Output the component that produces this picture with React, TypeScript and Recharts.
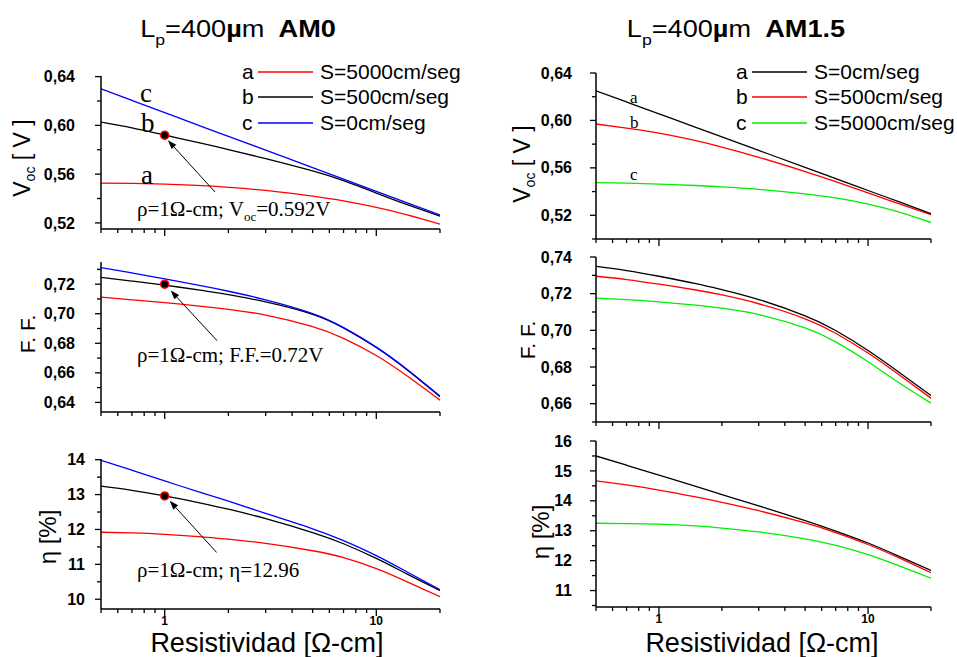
import React from 'react';
import { LineChart, Line, XAxis, YAxis, ReferenceDot, ReferenceLine } from 'recharts';

// ---------- data ----------
const rho = [0.5, 0.7, 1, 1.5, 2, 3, 5, 7, 10, 14, 20];

// AM0 (left column)
const vocAM0_S5000 = [0.5527, 0.5524, 0.5518, 0.5506, 0.5492, 0.5466, 0.5419, 0.5380, 0.5327, 0.5266, 0.5190];
const vocAM0_S500 = [0.6027, 0.5980, 0.5921, 0.5852, 0.5802, 0.5727, 0.5626, 0.5546, 0.5445, 0.5350, 0.5255];
const vocAM0_S0 = [0.6300, 0.6205, 0.6105, 0.5990, 0.5910, 0.5797, 0.5653, 0.5559, 0.5459, 0.5365, 0.5265];

const ffAM0_S5000 = [0.7112, 0.7094, 0.7075, 0.7050, 0.7030, 0.6991, 0.6913, 0.6833, 0.6717, 0.6578, 0.6415];
const ffAM0_S500 = [0.7246, 0.7221, 0.7193, 0.7158, 0.7129, 0.7080, 0.6996, 0.6904, 0.6771, 0.6619, 0.6439];
const ffAM0_S0 = [0.7312, 0.7276, 0.7236, 0.7188, 0.7152, 0.7094, 0.7001, 0.6906, 0.6774, 0.6622, 0.6442];

const etaAM0_S5000 = [11.92, 11.90, 11.86, 11.79, 11.72, 11.60, 11.39, 11.19, 10.88, 10.50, 10.07];
const etaAM0_S500 = [13.24, 13.12, 12.96, 12.75, 12.58, 12.31, 11.91, 11.59, 11.17, 10.72, 10.25];
const etaAM0_S0 = [13.98, 13.70, 13.39, 13.05, 12.81, 12.46, 12.02, 11.68, 11.25, 10.78, 10.27];

// AM1.5 (right column)
const vocAM15_S0 = [0.6250, 0.6156, 0.6056, 0.5942, 0.5861, 0.5747, 0.5604, 0.5509, 0.5409, 0.5315, 0.5214];
const vocAM15_S500 = [0.5970, 0.5935, 0.5892, 0.5829, 0.5775, 0.5689, 0.5569, 0.5484, 0.5389, 0.5298, 0.5205];
const vocAM15_S5000 = [0.5475, 0.5471, 0.5463, 0.5451, 0.5440, 0.5419, 0.5381, 0.5346, 0.5295, 0.5229, 0.5139];

const ffAM15_S0 = [0.7349, 0.7326, 0.7295, 0.7255, 0.7222, 0.7168, 0.7079, 0.6999, 0.6890, 0.6773, 0.6644];
const ffAM15_S500 = [0.7295, 0.7277, 0.7252, 0.7220, 0.7193, 0.7145, 0.7063, 0.6984, 0.6876, 0.6759, 0.6630];
const ffAM15_S5000 = [0.7176, 0.7167, 0.7155, 0.7137, 0.7121, 0.7086, 0.7013, 0.6937, 0.6829, 0.6715, 0.6603];

const etaAM15_S0 = [15.50, 15.19, 14.86, 14.48, 14.21, 13.83, 13.34, 12.99, 12.59, 12.15, 11.67];
const etaAM15_S500 = [14.67, 14.53, 14.36, 14.13, 13.95, 13.67, 13.26, 12.94, 12.54, 12.10, 11.60];
const etaAM15_S5000 = [13.25, 13.24, 13.22, 13.16, 13.09, 12.96, 12.73, 12.51, 12.20, 11.83, 11.41];

// ticks
const xTicks = [0.5, 0.6, 0.7, 0.8, 0.9, 1, 2, 3, 4, 5, 6, 7, 8, 9, 10, 20];
const xMajor = [1, 10];
const vocAM0Ticks = [0.52, 0.54, 0.56, 0.58, 0.6, 0.62, 0.64];
const vocAM0Major = [0.52, 0.56, 0.6, 0.64];
const vocAM15Ticks = [0.5, 0.52, 0.54, 0.56, 0.58, 0.6, 0.62, 0.64];
const vocAM15Major = [0.52, 0.56, 0.6, 0.64];
const ffAM0Ticks = [0.64, 0.65, 0.66, 0.67, 0.68, 0.69, 0.7, 0.71, 0.72, 0.73];
const ffAM0Major = [0.64, 0.66, 0.68, 0.7, 0.72];
const ffAM15Ticks = [0.65, 0.66, 0.67, 0.68, 0.69, 0.7, 0.71, 0.72, 0.73, 0.74];
const ffAM15Major = [0.66, 0.68, 0.7, 0.72, 0.74];
const etaAM0Ticks = [10, 10.5, 11, 11.5, 12, 12.5, 13, 13.5, 14];
const etaAM0Major = [10, 11, 12, 13, 14];
const etaAM15Ticks = [10.5, 11, 11.5, 12, 12.5, 13, 13.5, 14, 14.5, 15, 15.5, 16];
const etaAM15Major = [11, 12, 13, 14, 15, 16];

// highlighted points (rho = 1 ohm-cm) and arrow segments [tail, head]
const markVoc = { x: 1, y: 0.592 };
const markFF = { x: 1, y: 0.72 };
const markEta = { x: 1, y: 12.96 };
const arrowVoc = [{ x: 1.73, y: 0.5453 }, { x: 1.035, y: 0.5878 }];
const arrowFF = [{ x: 1.77, y: 0.6817 }, { x: 1.067, y: 0.7157 }];
const arrowEta = [{ x: 1.76, y: 11.34 }, { x: 1.056, y: 12.82 }];

const SANS = 'Liberation Sans, Arial, Helvetica, sans-serif';
const SERIF = 'Liberation Serif, Times New Roman, serif';

const RED = '#ff0000';
const BLACK = '#000000';
const BLUE = '#0000ff';
const GREEN = '#00ee00';

type Series = { key: string; color: string; values: number[] };

const buildData = (series: Series[]) =>
  rho.map((x, i) => {
    const row: any = { x };
    series.forEach((s) => (row[s.key] = s.values[i]));
    return row;
  });

const makeXTick = (showLabels: boolean) => (p: any) => {
  const { x, y, payload } = p;
  const v = payload.value;
  const major = xMajor.includes(v);
  return (
    <g>
      <line x1={x} x2={x} y1={y} y2={y + (major ? 7 : 4)} stroke="#000" strokeWidth={1.3} />
      {showLabels && major && (
        <text x={x} y={y + 15.5} textAnchor="middle" fontWeight="bold" fontSize={12} fontFamily={SANS} fill="#000">
          {v}
        </text>
      )}
    </g>
  );
};

const makeYTick = (majors: number[], decimals: number, offset: number) => (p: any) => {
  const { x, y, payload } = p;
  const v = payload.value;
  const major = majors.some((m) => Math.abs(m - v) < 1e-6);
  return (
    <g>
      <line x1={x - (major ? 6 : 4)} x2={x} y1={y} y2={y} stroke="#000" strokeWidth={1.3} />
      {major && (
        <text x={x - offset} y={y} dy="0.35em" textAnchor="end" fontWeight="bold" fontSize={16} fontFamily={SANS} fill="#000">
          {v.toFixed(decimals).replace('.', ',')}
        </text>
      )}
    </g>
  );
};

const Arrow = (p: any) => {
  const { x1, y1, x2, y2 } = p;
  const ang = Math.atan2(y2 - y1, x2 - x1);
  const L = 9;
  const W = 3.2;
  const c = Math.cos(ang);
  const s = Math.sin(ang);
  const bx = x2 - L * c;
  const by = y2 - L * s;
  return (
    <g>
      <line x1={x1} y1={y1} x2={bx} y2={by} stroke="#000" strokeWidth={1} />
      <polygon points={`${x2},${y2} ${bx - W * s},${by + W * c} ${bx + W * s},${by - W * c}`} fill="#000" />
    </g>
  );
};

type PanelProps = {
  originX: number;
  x0: number;
  y0: number;
  x1: number;
  y1: number;
  xAxisH: number;
  domain: [number, number];
  yTicks: number[];
  yMajor: number[];
  decimals: number;
  labelOffset: number;
  series: Series[];
  showXLabels: boolean;
  mark?: { x: number; y: number };
  arrow?: { x: number; y: number }[];
};

function Panel(props: PanelProps) {
  const { originX, x0, y0, x1, y1, xAxisH, domain, yTicks, yMajor, decimals, labelOffset, series, showXLabels, mark, arrow } = props;
  const top = y0 - 20;
  const width = x1 + 20 - originX;
  const height = y1 - y0 + 20 + xAxisH;
  const data = buildData(series);
  return (
    <div style={{ position: 'absolute', left: originX, top }}>
      <LineChart width={width} height={height} data={data} margin={{ top: 20, right: 20, left: 0, bottom: 0 }}>
        <XAxis
          type="number"
          dataKey="x"
          scale="log"
          domain={[0.5, 20]}
          allowDataOverflow
          ticks={xTicks}
          interval={0}
          tickSize={0}
          tickMargin={0}
          tickLine={false}
          axisLine={{ stroke: '#000', strokeWidth: 1.5 }}
          height={xAxisH}
          tick={makeXTick(showXLabels)}
        />
        <YAxis
          type="number"
          domain={domain}
          allowDataOverflow
          ticks={yTicks}
          interval={0}
          width={x0 - originX}
          tickSize={0}
          tickMargin={0}
          tickLine={false}
          axisLine={{ stroke: '#000', strokeWidth: 1.5 }}
          tick={makeYTick(yMajor, decimals, labelOffset)}
        />
        {series.map((s) => (
          <Line
            key={s.key}
            dataKey={s.key}
            stroke={s.color}
            strokeWidth={1.3}
            dot={false}
            type="natural"
            isAnimationActive={false}
          />
        ))}
        {arrow && <ReferenceLine segment={arrow} ifOverflow="visible" shape={(p: any) => <Arrow {...p} />} />}
        {mark && (
          <ReferenceDot x={mark.x} y={mark.y} r={4} fill="#000" stroke={RED} strokeWidth={1.5} ifOverflow="visible" />
        )}
      </LineChart>
    </div>
  );
}

const LegendRow = ({ x, y, letter, color, label }: any) => (
  <g fontFamily={SANS} fontSize={21} fill="#000">
    <text x={x} y={y + 7}>{letter}</text>
    <line x1={x + 16} x2={x + 71} y1={y} y2={y} stroke={color} strokeWidth={1.3} />
    <text x={x + 78} y={y + 7}>{label}</text>
  </g>
);

export default function App() {
  return (
    <div style={{ position: 'absolute', left: 0, top: 0, width: 957, height: 657, background: '#fff', overflow: 'hidden' }}>
      <Panel
        originX={0} x0={101} y0={76} x1={440} y1={229} xAxisH={12}
        domain={[0.515, 0.6405]} yTicks={vocAM0Ticks} yMajor={vocAM0Major} decimals={2} labelOffset={26}
        series={[
          { key: 'a', color: RED, values: vocAM0_S5000 },
          { key: 'b', color: BLACK, values: vocAM0_S500 },
          { key: 'c', color: BLUE, values: vocAM0_S0 },
        ]}
        showXLabels={false} mark={markVoc} arrow={arrowVoc}
      />
      <Panel
        originX={0} x0={101} y0={262} x1={440} y1={412} xAxisH={12}
        domain={[0.6335, 0.735]} yTicks={ffAM0Ticks} yMajor={ffAM0Major} decimals={2} labelOffset={26}
        series={[
          { key: 'a', color: RED, values: ffAM0_S5000 },
          { key: 'b', color: BLACK, values: ffAM0_S500 },
          { key: 'c', color: BLUE, values: ffAM0_S0 },
        ]}
        showXLabels={false} mark={markFF} arrow={arrowFF}
      />
      <Panel
        originX={0} x0={101} y0={459} x1={440} y1={609} xAxisH={30}
        domain={[9.72, 14.02]} yTicks={etaAM0Ticks} yMajor={etaAM0Major} decimals={0} labelOffset={16}
        series={[
          { key: 'a', color: RED, values: etaAM0_S5000 },
          { key: 'b', color: BLACK, values: etaAM0_S500 },
          { key: 'c', color: BLUE, values: etaAM0_S0 },
        ]}
        showXLabels={true} mark={markEta} arrow={arrowEta}
      />
      <Panel
        originX={480} x0={596} y0={73} x1={931} y1={239} xAxisH={12}
        domain={[0.5, 0.64]} yTicks={vocAM15Ticks} yMajor={vocAM15Major} decimals={2} labelOffset={24}
        series={[
          { key: 'c', color: GREEN, values: vocAM15_S5000 },
          { key: 'b', color: RED, values: vocAM15_S500 },
          { key: 'a', color: BLACK, values: vocAM15_S0 },
        ]}
        showXLabels={false}
      />
      <Panel
        originX={480} x0={596} y0={257} x1={931} y1={422} xAxisH={12}
        domain={[0.65, 0.74]} yTicks={ffAM15Ticks} yMajor={ffAM15Major} decimals={2} labelOffset={24}
        series={[
          { key: 'c', color: GREEN, values: ffAM15_S5000 },
          { key: 'a', color: BLACK, values: ffAM15_S0 },
          { key: 'b', color: RED, values: ffAM15_S500 },
        ]}
        showXLabels={false}
      />
      <Panel
        originX={480} x0={596} y0={441} x1={931} y1={607} xAxisH={30}
        domain={[10.45, 16]} yTicks={etaAM15Ticks} yMajor={etaAM15Major} decimals={0} labelOffset={24}
        series={[
          { key: 'c', color: GREEN, values: etaAM15_S5000 },
          { key: 'a', color: BLACK, values: etaAM15_S0 },
          { key: 'b', color: RED, values: etaAM15_S500 },
        ]}
        showXLabels={true}
      />

      <svg width={957} height={657} style={{ position: 'absolute', left: 0, top: 0, pointerEvents: 'none' }}>
        {/* titles */}
        <g transform="translate(238,37) scale(1.18,1)">
          <text textAnchor="middle" fontFamily={SANS} fontSize={23} fill="#000">
            L<tspan fontSize={15} dy={8}>p</tspan>
            <tspan dy={-8}>=400</tspan>
            <tspan fontWeight="bold">µ</tspan>
            <tspan>m</tspan>
            <tspan fontWeight="bold" dx={12}>AM0</tspan>
          </text>
        </g>
        <g transform="translate(736,37) scale(1.18,1)">
          <text textAnchor="middle" fontFamily={SANS} fontSize={23} fill="#000">
            L<tspan fontSize={15} dy={8}>p</tspan>
            <tspan dy={-8}>=400</tspan>
            <tspan fontWeight="bold">µ</tspan>
            <tspan>m</tspan>
            <tspan fontWeight="bold" dx={12}>AM1.5</tspan>
          </text>
        </g>

        {/* y axis titles */}
        <g fontFamily={SANS} fill="#000">
          <text transform="translate(30,158) rotate(-90)" textAnchor="middle" fontSize={23}>
            V<tspan fontSize={14} dy={5}>oc</tspan>
            <tspan dy={-5}> [ V ]</tspan>
          </text>
          <text transform="translate(35,334) rotate(-90)" textAnchor="middle" fontSize={21}>F. F.</text>
          <text transform="translate(56,537) rotate(-90)" textAnchor="middle" fontSize={24}>η [%]</text>

          <text transform="translate(530,164) rotate(-90)" textAnchor="middle" fontSize={23}>
            V<tspan fontSize={14} dy={5}>oc</tspan>
            <tspan dy={-5}> [ V ]</tspan>
          </text>
          <text transform="translate(535,340) rotate(-90)" textAnchor="middle" fontSize={21}>F. F.</text>
          <text transform="translate(549,532) rotate(-90)" textAnchor="middle" fontSize={24}>η [%]</text>
        </g>

        {/* x axis titles */}
        <g fontFamily={SANS} fontSize={27} fill="#000" textAnchor="middle">
          <text x={267} y={652}>Resistividad [Ω-cm]</text>
          <text x={762} y={652}>Resistividad [Ω-cm]</text>
        </g>

        {/* legends */}
        <LegendRow x={242} y={72} letter="a" color={RED} label="S=5000cm/seg" />
        <LegendRow x={242} y={97} letter="b" color={BLACK} label="S=500cm/seg" />
        <LegendRow x={242} y={123} letter="c" color={BLUE} label="S=0cm/seg" />
        <LegendRow x={736} y={72} letter="a" color={BLACK} label="S=0cm/seg" />
        <LegendRow x={736} y={97} letter="b" color={RED} label="S=500cm/seg" />
        <LegendRow x={736} y={123} letter="c" color={GREEN} label="S=5000cm/seg" />

        {/* curve letters */}
        <g fontFamily={SERIF} fontSize={27} fill="#000">
          <text x={140} y={102}>c</text>
          <text x={141} y={132}>b</text>
          <text x={141} y={184}>a</text>
        </g>
        <g fontFamily={SERIF} fontSize={17} fill="#000">
          <text x={630} y={103}>a</text>
          <text x={630} y={128}>b</text>
          <text x={630} y={180}>c</text>
        </g>

        {/* annotations */}
        <g fontFamily={SERIF} fontSize={21} fill="#000">
          <text x={137} y={216}>
            ρ=1Ω-cm; V<tspan fontSize={13} dy={5}>oc</tspan>
            <tspan dy={-5}>=0.592V</tspan>
          </text>
          <text x={137} y={362}>ρ=1Ω-cm; F.F.=0.72V</text>
          <text x={137} y={577}>ρ=1Ω-cm; η=12.96</text>
        </g>
      </svg>
    </div>
  );
}
